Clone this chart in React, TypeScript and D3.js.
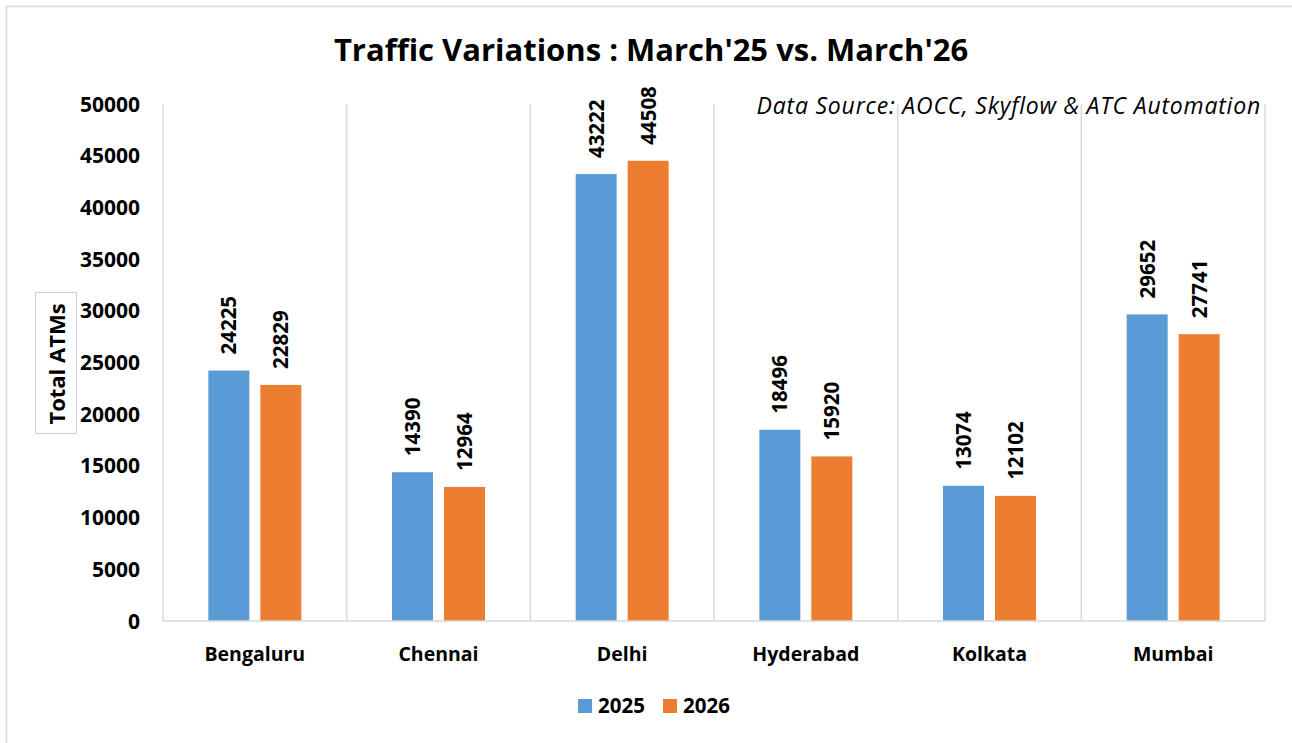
import { useMemo } from 'react';
import * as d3 from 'd3';

const WIDTH = 1292;
const HEIGHT = 743;

const CITIES = ['Bengaluru', 'Chennai', 'Delhi', 'Hyderabad', 'Kolkata', 'Mumbai'];
const SERIES = ['2025', '2026'];
const VALUES_2025 = [24225, 14390, 43222, 18496, 13074, 29652];
const VALUES_2026 = [22829, 12964, 44508, 15920, 12102, 27741];
const Y_TICKS = [0, 5000, 10000, 15000, 20000, 25000, 30000, 35000, 40000, 45000, 50000];

const COLORS: Record<string, string> = {
  '2025': '#5b9bd5',
  '2026': '#ed7d31',
};

const FONT = "'Open Sans', 'Noto Sans', sans-serif";
const GRID = '#d9d9d9';

const PLOT = { left: 163, right: 1265, top: 104, bottom: 621 };

export default function App() {
  const x0 = useMemo(
    () => d3.scaleBand<string>().domain(CITIES).range([PLOT.left, PLOT.right]).padding(0),
    [],
  );
  const x1 = useMemo(
    () =>
      d3
        .scaleBand<string>()
        .domain(SERIES)
        .range([0, x0.bandwidth()])
        .paddingInner(0.2115)
        .paddingOuter(0.872),
    [x0],
  );
  const y = useMemo(
    () => d3.scaleLinear().domain([0, 50000]).range([PLOT.bottom, PLOT.top]),
    [],
  );

  const rows = CITIES.map((city, i) => ({
    city,
    values: [
      { key: '2025', value: VALUES_2025[i] },
      { key: '2026', value: VALUES_2026[i] },
    ],
  }));

  const gridXs = [...CITIES.map((c) => x0(c) ?? 0), PLOT.right];

  return (
    <div style={{ position: 'absolute', left: 0, top: 0 }}>
      <svg width={WIDTH} height={HEIGHT} style={{ display: 'block', background: '#fff' }}>
        {/* chart area border (only left/top visible in frame) */}
        <rect x={6.5} y={6.5} width={1400} height={900} fill="#fff" stroke={GRID} strokeWidth={1.5} />

        <text
          x={651}
          y={61}
          textAnchor="middle"
          fontFamily={FONT}
          fontWeight={700}
          fontSize={31}
          fill="#000"
        >
          Traffic Variations : March'25 vs. March'26
        </text>

        {/* vertical category separators */}
        {gridXs.map((gx, i) => (
          <line
            key={i}
            x1={gx}
            x2={gx}
            y1={PLOT.top}
            y2={PLOT.bottom}
            stroke={GRID}
            strokeWidth={1.5}
          />
        ))}

        {/* bars */}
        {rows.map((row) => (
          <g key={row.city} transform={`translate(${x0(row.city)},0)`}>
            {row.values.map((d) => {
              const bx = x1(d.key) ?? 0;
              const by = y(d.value);
              return (
                <g key={d.key}>
                  <rect
                    x={bx}
                    y={by}
                    width={x1.bandwidth()}
                    height={PLOT.bottom - by}
                    fill={COLORS[d.key]}
                  />
                  <text
                    transform={`translate(${bx + x1.bandwidth() / 2 + 7.5},${by - 16}) rotate(-90)`}
                    textAnchor="start"
                    fontFamily={FONT}
                    fontWeight={700}
                    fontSize={20.5}
                    fill="#000"
                  >
                    {d.value}
                  </text>
                </g>
              );
            })}
          </g>
        ))}

        {/* x axis line */}
        <line
          x1={PLOT.left}
          x2={PLOT.right}
          y1={PLOT.bottom}
          y2={PLOT.bottom}
          stroke={GRID}
          strokeWidth={1.5}
        />

        {/* y tick labels */}
        {Y_TICKS.map((t) => (
          <text
            key={t}
            x={140}
            y={y(t) + 7.5}
            textAnchor="end"
            fontFamily={FONT}
            fontWeight={700}
            fontSize={21}
            fill="#000"
          >
            {t}
          </text>
        ))}

        {/* category labels */}
        {CITIES.map((c) => (
          <text
            key={c}
            x={(x0(c) ?? 0) + x0.bandwidth() / 2}
            y={661}
            textAnchor="middle"
            fontFamily={FONT}
            fontWeight={700}
            fontSize={19.5}
            fill="#000"
          >
            {c}
          </text>
        ))}

        {/* y axis title in its text box */}
        <rect x={35.5} y={292.5} width={41} height={141} fill="#fff" stroke="#bdd3ee" strokeWidth={1} />
        <text
          transform="translate(65,364) rotate(-90)"
          textAnchor="middle"
          fontFamily={FONT}
          fontWeight={700}
          fontSize={22}
          fill="#000"
        >
          Total ATMs
        </text>

        {/* data source note */}
        <text
          x={1261}
          y={114}
          textAnchor="end"
          fontFamily={FONT}
          fontStyle="italic"
          fontSize={23}
          letterSpacing={0.8}
          fill="#000"
        >
          Data Source: AOCC, Skyflow &amp; ATC Automation
        </text>

        {/* legend */}
        {SERIES.map((s, i) => {
          const lx = 578 + i * 85;
          return (
            <g key={s}>
              <rect x={lx} y={699} width={14} height={14} fill={COLORS[s]} />
              <text
                x={lx + 20}
                y={713}
                fontFamily={FONT}
                fontWeight={700}
                fontSize={20.5}
                fill="#000"
              >
                {s}
              </text>
            </g>
          );
        })}
      </svg>
    </div>
  );
}
